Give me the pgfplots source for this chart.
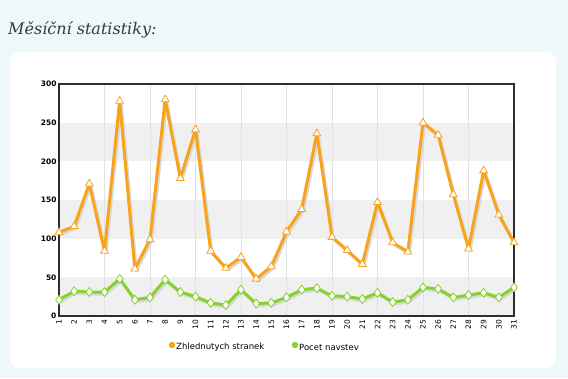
\documentclass[border=0pt]{standalone}
\usepackage{pgfplots}
\pgfplotsset{compat=1.18}
\usepackage{fontspec}
\setmainfont{DejaVu Sans}
\newfontfamily\titlefont{DejaVu Serif}
\definecolor{bgblue}{HTML}{EEF7F9}
\definecolor{titlegray}{HTML}{3A3A3A}
\definecolor{bandgray}{HTML}{F0F0F0}
\definecolor{gridgray}{HTML}{E2E2E2}
\definecolor{framegray}{HTML}{2E2E2E}
\definecolor{oline}{HTML}{F9A21B}
\definecolor{gline}{HTML}{84D22A}
\definecolor{shadow}{HTML}{D8D8D8}
\begin{document}
\begin{tikzpicture}
\fill[bgblue] (0pt,0pt) rectangle (568pt,378pt);
\fill[white, rounded corners=10pt] (10pt,10pt) rectangle (556pt,326pt);
\node[anchor=west, text=titlegray, font=\titlefont\itshape\fontsize{16}{18}\selectfont, inner sep=0pt] at (8pt,348pt) {Měsíční statistiky:};
\begin{axis}[
  at={(59pt,62pt)}, anchor=south west, scale only axis,
  width=455pt, height=232pt,
  xmin=1, xmax=31, ymin=0, ymax=300,
  xtick={1,...,31}, ytick={0,50,...,300},
  major tick length=0pt,
  axis line style={framegray, line width=2pt},
  /pgf/number format/assume math mode=true,
  yticklabel style={font=\bfseries\fontsize{7.5}{8}\selectfont, text=black, xshift=1pt},
  xticklabel style={font=\fontsize{7.5}{8}\selectfont, rotate=90, anchor=east, text=black},
  clip=false,
  axis on top,
]
\fill[bandgray] (axis cs:1,0) rectangle (axis cs:31,50);
\fill[bandgray] (axis cs:1,100) rectangle (axis cs:31,150);
\fill[bandgray] (axis cs:1,200) rectangle (axis cs:31,250);
\pgfplotsinvokeforeach{4,7,...,28}{\draw[gridgray, line width=0.6pt] (axis cs:#1,0) -- (axis cs:#1,300);}
% shadows
\addplot[shadow, line width=3pt, line join=round, xshift=1.5pt, yshift=-2pt, forget plot] coordinates {
(1,108)(2,116)(3,171)(4,84)(5,278)(6,61)(7,99)(8,280)(9,178)(10,241)(11,84)(12,62)(13,76)(14,48)(15,64)(16,109)(17,138)(18,236)(19,102)(20,85)(21,67)(22,147)(23,95)(24,83)(25,250)(26,234)(27,157)(28,87)(29,188)(30,131)(31,95)};
\addplot[shadow, line width=3pt, line join=round, xshift=1.5pt, yshift=-2pt, forget plot] coordinates {
(1,21)(2,32)(3,31)(4,31)(5,48)(6,21)(7,24)(8,47)(9,31)(10,25)(11,17)(12,14)(13,34)(14,16)(15,17)(16,24)(17,34)(18,36)(19,26)(20,25)(21,22)(22,30)(23,18)(24,21)(25,37)(26,35)(27,24)(28,27)(29,30)(30,24)(31,37)};
% data
\addplot[oline, line width=3pt, line join=round, mark=triangle*, mark size=4.5pt, mark options={fill=white, draw=oline, line width=0.8pt, line join=miter}] coordinates {
(1,108)(2,116)(3,171)(4,84)(5,278)(6,61)(7,99)(8,280)(9,178)(10,241)(11,84)(12,62)(13,76)(14,48)(15,64)(16,109)(17,138)(18,236)(19,102)(20,85)(21,67)(22,147)(23,95)(24,83)(25,250)(26,234)(27,157)(28,87)(29,188)(30,131)(31,95)};
\addplot[gline, line width=3pt, line join=round, mark=diamond*, mark size=4.5pt, mark options={fill=white, draw=gline, line width=0.8pt}] coordinates {
(1,21)(2,32)(3,31)(4,31)(5,48)(6,21)(7,24)(8,47)(9,31)(10,25)(11,17)(12,14)(13,34)(14,16)(15,17)(16,24)(17,34)(18,36)(19,26)(20,25)(21,22)(22,30)(23,18)(24,21)(25,37)(26,35)(27,24)(28,27)(29,30)(30,24)(31,37)};
\end{axis}
\fill[oline] (172pt,33pt) circle (3.2pt);
\node[anchor=west, font=\fontsize{8.5}{10}\selectfont, inner sep=0pt] at (176pt,31pt) {Zhlednutych stranek};
\fill[gline] (295pt,33pt) circle (3.2pt);
\node[anchor=west, font=\fontsize{8.5}{10}\selectfont, inner sep=0pt] at (299pt,31pt) {Pocet navstev};
\end{tikzpicture}
\end{document}
